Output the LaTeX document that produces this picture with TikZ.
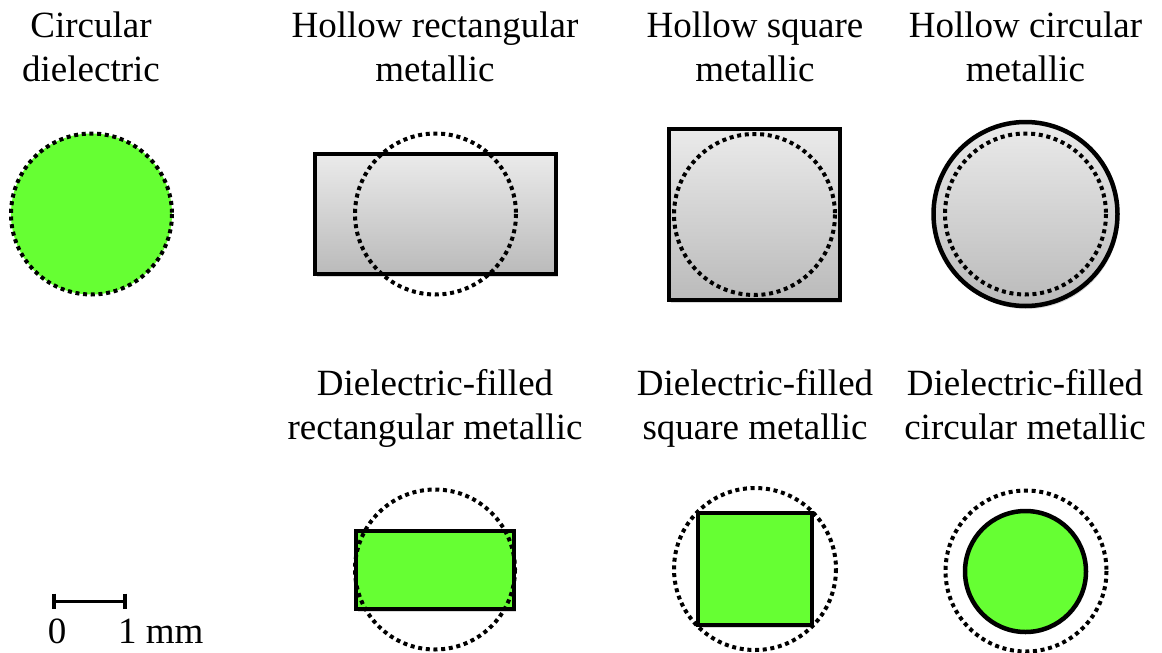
\documentclass[tikz,border=0pt]{standalone}
\usepackage{fontspec}
\setmainfont{Liberation Serif}
\usetikzlibrary{shadows}
\definecolor{diel}{RGB}{102,255,51}
\tikzset{
  lbl/.style={font=\fontsize{37}{44}\selectfont, anchor=base, inner sep=0pt},
  dots/.style={line width=4pt, dash pattern=on 4pt off 3.7pt},
  wall/.style={line width=4.5pt, draw=black},
  metal/.style={top color=black!8, bottom color=black!27},
  shad/.style={drop shadow={opacity=0.3, shadow xshift=1.5pt, shadow yshift=-3pt}},
  bar/.style={line width=3.8pt}
}
\begin{document}
\begin{tikzpicture}[x=1pt,y=-1pt]
\useasboundingbox (0,0) rectangle (1162,653);

% ---- labels, top row
\node[lbl] (l1a) at (91,37.5) {Circular};
\node[lbl] (l1b) at (91,81.5) {dielectric};
\node[lbl] (l2a) at (435,37.5) {Hollow rectangular};
\node[lbl] (l2b) at (435,81.5) {metallic};
\node[lbl] (l3a) at (755,37.5) {Hollow square};
\node[lbl] (l3b) at (755,81.5) {metallic};
\node[lbl] (l4a) at (1025.5,37.5) {Hollow circular};
\node[lbl] (l4b) at (1025.5,81.5) {metallic};
% ---- labels, bottom row
\node[lbl] (l5a) at (435,395.5) {Dielectric-filled};
\node[lbl] (l5b) at (435,439.5) {rectangular metallic};
\node[lbl] (l6a) at (755,395.5) {Dielectric-filled};
\node[lbl] (l6b) at (755,439.5) {square metallic};
\node[lbl] (l7a) at (1025,395.5) {Dielectric-filled};
\node[lbl] (l7b) at (1025,439.5) {circular metallic};

% ---- circular dielectric
\fill[diel] (91.5,214) circle (80.5);
\draw[dots] (91.5,214) circle (80.5);

% ---- hollow rectangular
\path[metal, wall, shad] (315,154) rectangle (556,274);
\draw[dots] (435.5,214) circle (80.5);

% ---- hollow square
\path[metal, wall, shad] (669,129) rectangle (840,300);
\draw[dots] (754.5,214.5) circle (80.5);

% ---- hollow circular
\path[metal, wall, shad] (1025.5,214) circle (92);
\draw[dots] (1025.5,214) circle (80.5);

% ---- dielectric-filled rectangular
\path[fill=diel, wall, shad] (356,531) rectangle (514,609);
\draw[dots] (435,569.5) circle (80);

% ---- dielectric-filled square
\path[fill=diel, wall, shad] (698,513) rectangle (812,625);
\draw[dots] (755,569) circle (81);

% ---- dielectric-filled circular
\path[fill=diel, wall] (1025.5,571.5) circle (60.5);
\draw[dots] (1026,571) circle (80.5);

% ---- scale bar
\coordinate (s0) at (54,601.5);
\coordinate (s1) at (125,601.5);
\draw[bar] (s0) -- (s1);
\draw[bar] ([yshift=8pt]s0) -- ([yshift=-7pt]s0);
\draw[bar] ([yshift=8pt]s1) -- ([yshift=-7pt]s1);
\node[lbl] (z0) at (57,643) {0};
\node[lbl, anchor=base west] (z1) at (118,643) {1 mm};
\end{tikzpicture}
\end{document}
